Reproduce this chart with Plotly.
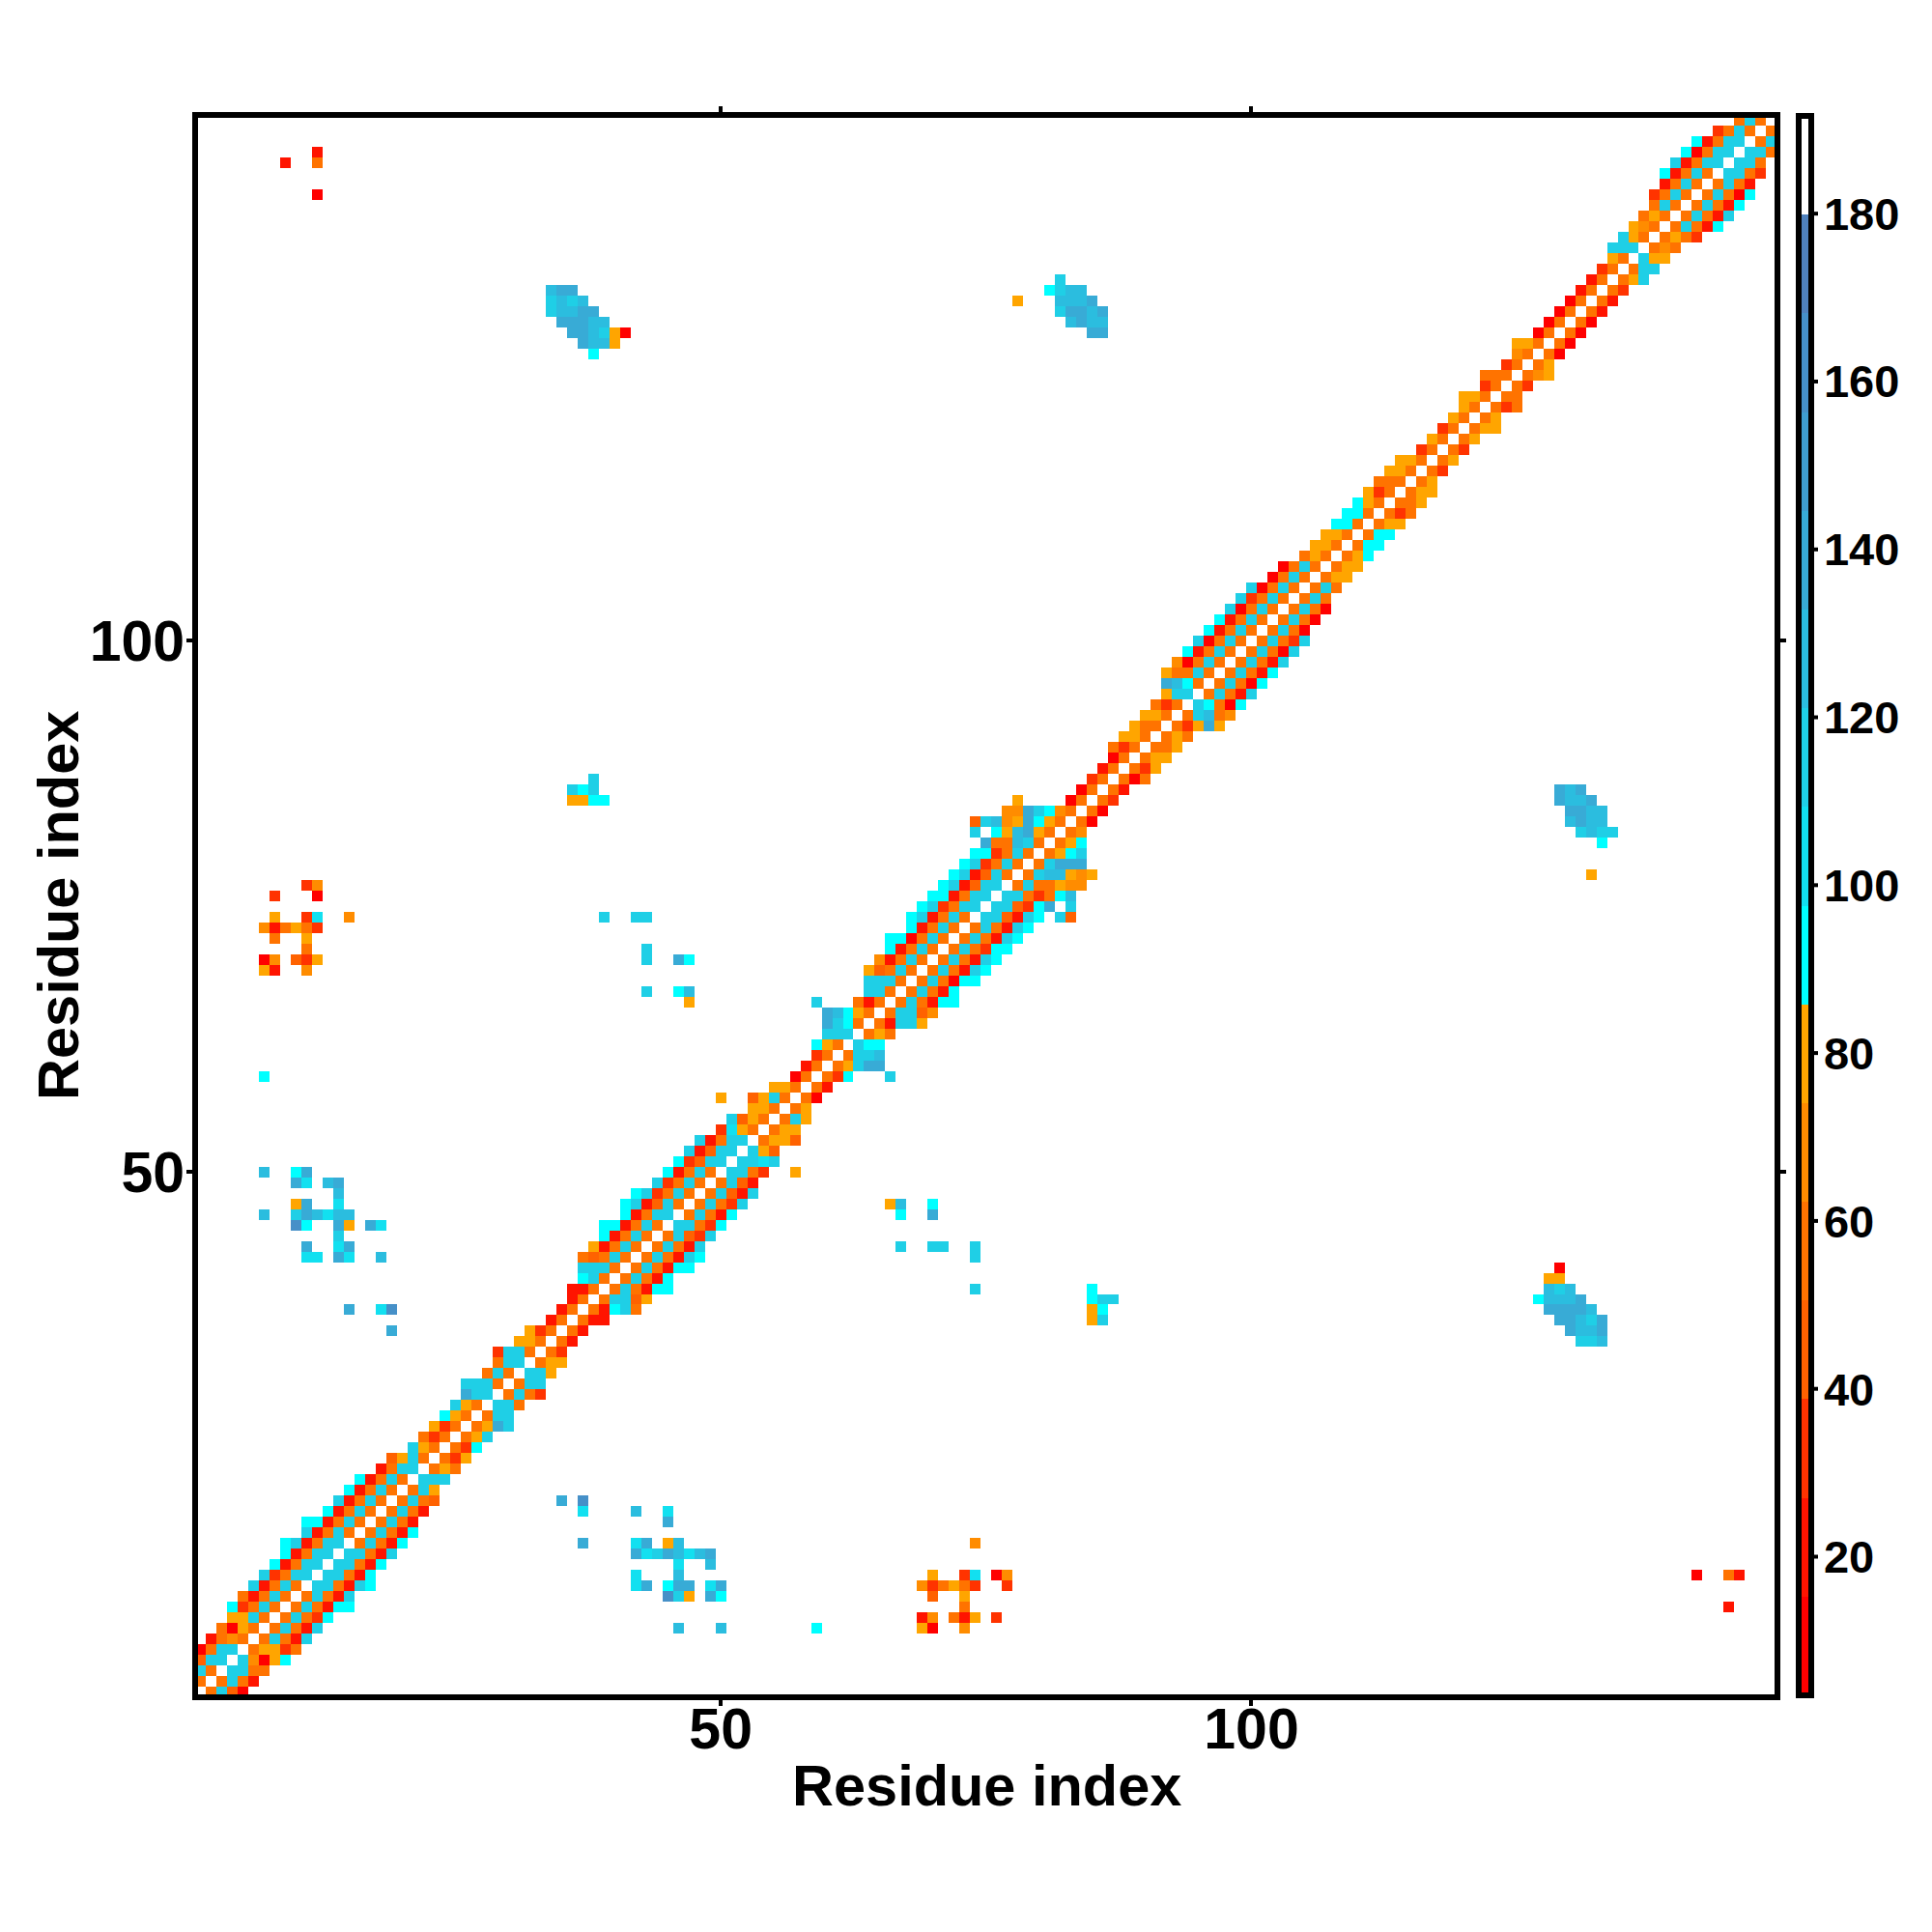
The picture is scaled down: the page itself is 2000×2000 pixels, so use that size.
import plotly.graph_objects as go

# None means no contact drawn for that pair
_ = None

n_residues = 149

# Bin colours of the colour key, lowest bin first
bin_colors = ["#FF0000", "#FF1400", "#FF3300", "#FF6200", "#FF7300", "#FF8C00", "#FFA500",
              "#00FFFF", "#12E0F0", "#1FCFE6", "#2BBDDF", "#38ABD6", "#3F9DD0", "#4690C8", "#4F81BD", "#FFFFFF"]
z_min = 3.6
z_max = 191.7
key_ticks = [20, 40, 60, 80, 100, 120, 140, 160, 180]

# Values next to the diagonal: band_d[i] belongs to residue pair (i+1, i+1+d)
band_1 = [56, 56, 115, 115, 56, 56, 56, 56, 56, 56,
          115, 115, 115, 115, 56, 56, 56, 56, 56, 56,
          115, 56, 56, 56, 56, 56, 56, 115, 56, 56,
          115, 56, 56, 56, 56, 56, 56, 56, 56, 56,
          56, 56, 56, 56, 115, 56, 56, 56, 56, 115,
          115, 115, 56, 56, 56, 56, 56, 56, 56, 56,
          56, 115, 56, 56, 56, 56, 56, 56, 56, 56,
          56, 56, 56, 115, 115, 115, 56, 56, 56, 56,
          56, 56, 56, 56, 56, 56, 56, 56, 56, 56,
          56, 56, 56, 115, 56, 56, 56, 56, 56, 56,
          56, 56, 56, 56, 56, 56, 56, 56, 56, 56,
          56, 56, 56, 56, 56, 56, 56, 56, 56, 56,
          56, 56, 56, 56, 56, 56, 56, 56, 56, 56,
          56, 56, 56, 56, 56, 115, 56, 56, 56, 56,
          56, 56, 56, 115, 115, 115, 56, 56]

band_2 = [115, 115, 115, 68, 80, 115, 115, 115, 115, 115,
          115, 115, 115, 115, 115, 115, 115, 115, 115, 115,
          115, 80, 33, 33, 80, 80, 115, 115, 115, 115,
          115, 80, 33, 21, 21, 21, 21, 115, 115, 115,
          115, 115, 115, 115, 115, 115, 115, 115, 115, 115,
          115, 80, 80, 80, 115, 80, 10, 21, 33, 80,
          115, 92, 80, 21, 115, 115, 115, 115, 115, 115,
          115, 115, 115, 115, 115, 115, 115, 115, 115, 80,
          80, 68, 10, 10, 33, 21, 10, 33, 80, 56,
          80, 33, 115, 92, 115, 115, 115, 115, 115, 115,
          115, 115, 115, 115, 115, 80, 80, 80, 92, 92,
          80, 33, 56, 80, 80, 33, 80, 33, 80, 80,
          80, 33, 56, 33, 68, 80, 10, 10, 10, 10,
          21, 21, 33, 80, 115, 80, 68, 80, 115, 115,
          115, 115, 115, 115, 115, 115, 115]

band_3 = [44, 56, 56, 10, 80, 56, 56, 56, 56, 56,
          56, 56, 56, 56, 56, 56, 56, 56, 56, 80,
          115, 56, 80, 92, 115, 139, 115, 56, 56, 115,
          80, 80, _, _, _, 21, 92, 115, 56, 56,
          56, 56, 56, 44, 56, 56, 56, 44, 44, 56,
          103, 44, 80, 80, 80, _, _, _, 92, 115,
          115, 92, 56, 115, 115, 56, 56, 56, 56, 56,
          56, 56, 56, 44, 44, 56, 56, 127, 139, 92,
          92, _, _, _, _, _, 56, 80, 80, 80,
          56, 80, 127, 56, 56, 56, 56, 56, 56, 56,
          56, 56, 56, 56, 56, 80, 80, 92, 92, 92,
          80, 56, 80, 80, _, _, _, _, _, 80,
          _, 56, _, _, 80, _, _, _, _, _,
          _, _, _, 115, 115, 80, 56, 56, 56, 56,
          56, 56, 56, 56, 56, 56]

band_4 = [10, 21, 56, 80, 33, 21, 21, 33, 21, 21,
          21, 21, 21, 21, 21, 21, 21, 21, 44, _,
          _, _, _, _, _, 115, _, _, 33, _,
          _, _, _, _, _, _, 115, 44, 21, 21,
          21, 21, 21, 33, 33, 21, 33, 21, 21, 33,
          115, _, 44, _, _, _, _, _, _, 139,
          127, _, _, 115, 44, 21, 21, 10, 21, 21,
          33, 21, 21, 21, 33, 33, 56, 127, 139, 115,
          _, _, _, _, _, _, _, _, _, _,
          _, 139, 56, 10, 21, 10, 21, 21, 10, 33,
          10, 10, 10, _, _, _, _, _, _, _,
          _, _, _, _, _, _, _, _, _, _,
          _, _, _, _, _, _, _, _, _, _,
          _, _, _, _, _, _, _, 33, 21, 21,
          21, 10, 21, 33, _]

band_5 = [_, _, _, 92, 56, 115, 115, 92, 92, 115,
          115, 92, 92, 115, 92, 92, _, _, _, _,
          _, _, _, _, _, _, _, _, _, _,
          _, _, _, _, _, _, 56, 80, 92, 92,
          92, 115, 115, 115, 92, 92, 115, 115, _, _,
          _, _, _, _, _, _, _, _, _, 139,
          _, _, _, 80, 68, 92, 92, 92, 115, 115,
          92, 115, 115, 115, 92, 56, 80, 80, 139, _,
          _, _, _, _, _, _, _, _, _, _,
          _, 80, 68, 92, 115, 92, 92, 115, 115, 115,
          _, _, _, _, _, _, _, _, _, _,
          _, _, _, _, _, _, _, _, _, _,
          _, _, _, _, _, _, _, _, _, _,
          _, _, _, _, _, _, _, _, 92, 115,
          92, 92, _, _]

# Pairs further from the diagonal, lower residue first
contact_a = [9, 11, 39, 41, 42, 66, 68, 69, 70, 71, 72, 73, 74, 75, 76, 77, 78,
             50, 59, 76, 77, 78, 74, 74, 75,
             11, 12, 8, 12, 8, 11, 12, 15, 7, 8, 9, 10, 11, 12, 8, 11, 11,
             7, 8, 10, 11, 12, 7, 8, 11,
             7, 7, 10, 11, 10, 11, 13, 14, 14, 10, 11, 14,
             7, 10, 11, 12, 13, 14, 15, 10, 11, 14, 15, 17, 18, 14,
             11, 14, 15, 11, 12, 14, 15, 18, 15, 18, 19, 19,
             38, 36, 37, 38, 36, 37, 38, 39, 39, 42, 43, 43, 43, 46, 47, 43, 46, 47, 47,
             12, 9, 12, 12,
             34, 35, 36, 34, 35, 36, 37, 34, 35, 36, 37, 38, 35, 36, 37, 38, 39,
             36, 37, 38, 39, 40, 41, 37, 38, 39, 40, 38,
             78, 82, 81, 82, 83, 84, 82, 83, 84, 85, 82, 83, 84, 85, 86, 83, 84, 85, 86, 85, 86]
contact_b = [15, 17, 45, 47, 48, 72, 74, 75, 76, 77, 78, 79, 80, 81, 82, 83, 84,
             57, 66, 83, 84, 85, 82, 83, 83,
             77, 77, 76, 76, 74, 74, 74, 74, 73, 73, 73, 73, 73, 73, 72, 72, 71,
             70, 70, 70, 70, 70, 69, 69, 69,
             59, 50, 50, 50, 49, 49, 49, 49, 48, 47, 47, 47,
             46, 46, 46, 46, 46, 46, 46, 45, 45, 45, 45, 45, 45, 44,
             43, 43, 43, 42, 42, 42, 42, 42, 37, 37, 37, 35,
             87, 86, 86, 86, 85, 85, 85, 85, 74, 74, 74, 71, 70, 70, 70, 67, 67, 67, 66,
             146, 145, 145, 142,
             133, 133, 133, 132, 132, 132, 132, 131, 131, 131, 131, 131, 130, 130, 130, 130, 130,
             129, 129, 129, 129, 129, 129, 128, 128, 128, 128, 127,
             132, 134, 133, 133, 133, 133, 132, 132, 132, 132, 131, 131, 131, 131, 131, 130, 130, 130, 130, 129, 129]
contact_v = [92, 92, 92, 92, 92, 92, 92, 92, 92, 92, 92, 92, 92, 139, 92, 68, 68,
             80, 115, 127, 68, 80, 115, 44, 115,
             33, 68, 33, 10, 80, 33, 103, 68, 68, 21, 56, 80, 56, 33, 56, 80, 56,
             10, 68, 44, 33, 80, 80, 21, 68,
             92, 127, 92, 139, 139, 103, 127, 139, 127, 80, 139, 103,
             127, 115, 139, 127, 103, 127, 127, 162, 92, 139, 80, 139, 103, 115,
             139, 103, 139, 103, 103, 139, 103, 127, 139, 103, 162, 139,
             115, 115, 92, 115, 80, 80, 92, 92, 115, 115, 115, 115, 115, 139, 92, 115, 92, 127, 80,
             21, 21, 56, 10,
             127, 139, 139, 115, 127, 115, 127, 115, 127, 127, 139, 139, 139, 139, 139, 127, 127,
             139, 139, 127, 115, 80, 10, 139, 127, 127, 80, 92,
             80, 115, 92, 115, 127, 127, 127, 127, 127, 139, 115, 139, 139, 127, 139, 127, 139, 127, 127, 139, 139]

# Build the symmetric matrix
z = [[None] * n_residues for _ in range(n_residues)]
for d, band in enumerate([band_1, band_2, band_3, band_4, band_5], start=1):
    for i, v in enumerate(band):
        if v is not None:
            z[i][i + d] = v
            z[i + d][i] = v
for a, b, v in zip(contact_a, contact_b, contact_v):
    z[a - 1][b - 1] = v
    z[b - 1][a - 1] = v

# Stepped colour scale, one flat step per bin
colorscale = []
for k, c in enumerate(bin_colors):
    colorscale.append([k / len(bin_colors), c])
    colorscale.append([(k + 1) / len(bin_colors), c])

residues = list(range(1, n_residues + 1))

# Plot area is 1632 px square, colour key slightly taller than it
plot_px = 1632
key_px = 1634.5

fig = go.Figure(go.Heatmap(
    x=residues, y=residues, z=z,
    zmin=z_min, zmax=z_max,
    colorscale=colorscale,
    hoverongaps=False,
    colorbar=dict(
        x=1 + 25 / plot_px, xanchor="left", xpad=0,
        y=1 + 2.5 / plot_px, yanchor="top", ypad=0,
        len=key_px / plot_px, lenmode="fraction",
        thickness=13, thicknessmode="pixels",
        outlinewidth=6, outlinecolor="black",
        ticks="", tickvals=key_ticks,
        tickfont=dict(family="Liberation Sans", size=47, color="black", weight="bold"),
    ),
))

# Short nubs on the key, its own ticks push the labels too far out
for v in key_ticks:
    key_y = (v - z_min) / (z_max - z_min) * key_px / plot_px
    fig.add_shape(type="line", xref="paper", yref="paper",
                  x0=1 + 40 / plot_px, x1=1 + 45 / plot_px, y0=key_y, y1=key_y,
                  line=dict(color="black", width=4))

axis_style = dict(
    tickvals=[50, 100],
    showgrid=False, zeroline=False,
    showline=True, linecolor="black", linewidth=6, mirror="ticks",
    ticks="outside", ticklen=6, tickwidth=4, tickcolor="black",
    tickfont=dict(family="Liberation Sans", size=59, color="black", weight="bold"),
)

fig.update_xaxes(range=[0.744, 149.29], ticklabelstandoff=-27, **axis_style)
fig.update_yaxes(range=[0.77, 149.25], ticklabelstandoff=-10, **axis_style)

title_font = dict(family="Liberation Sans", size=59.5, color="black", weight="bold")
fig.add_annotation(text="Residue index", xref="paper", yref="paper", x=0.5, y=-(1849 - 1754) / plot_px,
                   xanchor="center", yanchor="middle", showarrow=False, font=title_font)
fig.add_annotation(text="Residue index", xref="paper", yref="paper", x=-(205 - 60) / plot_px, y=0.5,
                   xanchor="center", yanchor="middle", showarrow=False, textangle=-90, font=title_font)

fig.update_layout(
    width=2000, height=2000,
    margin=dict(l=205, r=163, t=122, b=246),
    paper_bgcolor="white", plot_bgcolor="white",
    font=dict(family="Liberation Sans", color="black"),
)

fig.write_html("out.html", config=dict(displayModeBar=False),
               post_script="document.body.style.margin='0';")
